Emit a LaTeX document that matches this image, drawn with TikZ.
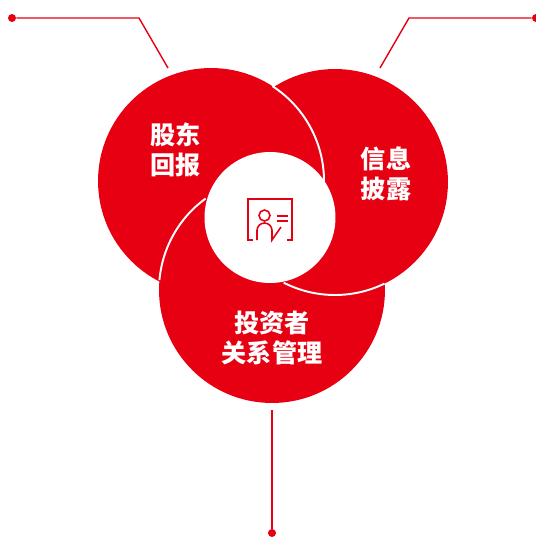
\documentclass[tikz,border=0pt]{standalone}
\usepackage{fontspec}
\usepackage{xcolor}
\usetikzlibrary{positioning}
\newfontfamily\cjk{Noto Sans CJK SC}
\definecolor{brandred}{HTML}{E60012}
\tikzset{
    petal/.style={circle, fill=brandred, minimum size=4.52cm, inner sep=0pt},
    hub/.style={circle, fill=white, minimum size=2.62cm, inner sep=0pt},
    dot/.style={circle, fill=brandred, minimum size=0.16cm, inner sep=0pt},
    leader/.style={draw=brandred, line width=0.8pt},
    seam/.style={draw=white, line width=1.1pt},
    iconline/.style={draw=brandred, line width=0.9pt},
    petaltext/.style={text=white, align=center, font=\cjk\bfseries\fontsize{14.3}{17}\selectfont}
}

\begin{document}
\begin{tikzpicture}[x=0.02cm, y=-0.02cm]
    \useasboundingbox (0, 0) rectangle (536, 538);

    \node[petal] (left) at (211, 181) {};
    \node[petal] (right) at (335, 182) {};
    \node[petal] (bottom) at (272, 290) {};

    % white seams where the circles overlap
    \draw[seam] (left.center) ++(-57:113) arc (-57:2:113);
    \draw[seam] (bottom.center) ++(185:113) arc (185:234:113);
    \draw[seam] (right.center) ++(64:113) arc (64:117:113);

    \node[hub] (core) at (270, 217.5) {};

    \node[petaltext] (returns) at (175.5, 150) {股东\\回报};
    \node[petaltext] (disclosure) at (386, 174) {信息\\披露};
    \node[petaltext] (relations) at (272, 338) {投资者\\关系管理};

    % leaders
    \node[dot] (dotleft) at (12, 18) {};
    \node[dot] (dotright) at (536, 18) {};
    \node[dot] (dotbottom) at (272, 533) {};
    \coordinate (bendleft) at (139, 18);
    \coordinate (endleft) at (168, 68);
    \coordinate (bendright) at (409, 18);
    \coordinate (endright) at (380, 68);
    \coordinate (endbottom) at (272, 410);
    \draw[leader] (dotleft) -- (bendleft) -- (endleft);
    \draw[leader] (dotright) -- (bendright) -- (endright);
    \draw[leader] (dotbottom) -- (endbottom);

    % icon
    \coordinate (head) at (264.5, 215.5);
    \draw[iconline] (253, 240) -- (248, 240) -- (248, 199) -- (292, 199) -- (292, 240) -- (287, 240);
    \draw[iconline] (head) circle (5.5);
    \draw[iconline] (277, 216) -- (288, 216);
    \draw[iconline] (277, 221) -- (288, 221);
    \draw[iconline] (257, 240) -- (257, 230.5) arc (180:360:7.5) -- (272, 240) -- (281, 227);
\end{tikzpicture}
\end{document}
